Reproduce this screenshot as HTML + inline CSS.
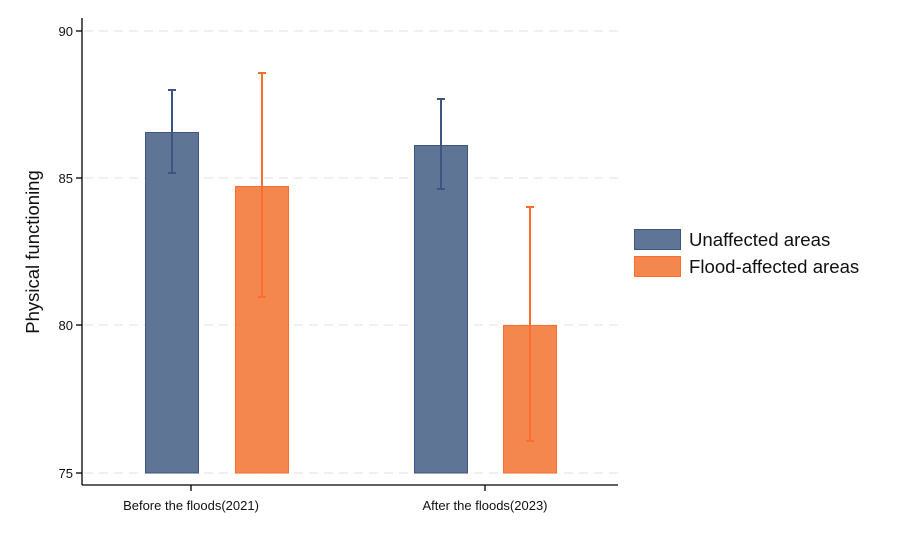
<!DOCTYPE html><html><head><style>body{margin:0;background:#fff}</style></head><body>
<svg width="904" height="542" xmlns="http://www.w3.org/2000/svg" font-family="Liberation Sans, Arial, sans-serif">
<rect width="904" height="542" fill="#fff"/>
<g stroke="#e6e6e6" stroke-dasharray="9,6" stroke-width="1.2">
<line x1="84" y1="31" x2="620" y2="31"/><line x1="84" y1="178" x2="620" y2="178"/><line x1="84" y1="325" x2="620" y2="325"/><line x1="84" y1="473" x2="620" y2="473"/></g>
<rect x="145.5" y="132.5" width="53" height="340.5" fill="#5f7595" stroke="#3d5580"/>
<rect x="235.5" y="186.5" width="53" height="286.5" fill="#f4874e" stroke="#f86e2c"/>
<rect x="414.5" y="145.5" width="53" height="327.5" fill="#5f7595" stroke="#3d5580"/>
<rect x="503.5" y="325.5" width="53" height="147.5" fill="#f4874e" stroke="#f86e2c"/>
<g stroke="#3d5580" stroke-width="2"><line x1="172" y1="90" x2="172" y2="173"/><line x1="168" y1="90" x2="176" y2="90"/><line x1="168" y1="173" x2="176" y2="173"/>
<line x1="441" y1="99" x2="441" y2="189"/><line x1="437" y1="99" x2="445" y2="99"/><line x1="437" y1="189" x2="445" y2="189"/></g>
<g stroke="#f86e2c" stroke-width="2"><line x1="262" y1="73" x2="262" y2="297"/><line x1="258" y1="73" x2="266" y2="73"/><line x1="258" y1="297" x2="266" y2="297"/>
<line x1="530" y1="207" x2="530" y2="441"/><line x1="526" y1="207" x2="534" y2="207"/><line x1="526" y1="441" x2="534" y2="441"/></g>
<g stroke="#000" stroke-width="1.3"><line x1="82" y1="18" x2="82" y2="485"/><line x1="82" y1="485" x2="618" y2="485"/>
<line x1="76" y1="31" x2="82" y2="31"/><line x1="76" y1="178" x2="82" y2="178"/><line x1="76" y1="325" x2="82" y2="325"/><line x1="76" y1="473" x2="82" y2="473"/>
<line x1="191" y1="485" x2="191" y2="491"/><line x1="485" y1="485" x2="485" y2="491"/></g>
<g font-size="13" text-anchor="end" fill="#111"><text x="73" y="36">90</text><text x="73" y="183">85</text><text x="73" y="330">80</text><text x="73" y="478">75</text></g>
<g font-size="13" text-anchor="middle" fill="#111"><text x="191" y="510">Before the floods(2021)</text><text x="485" y="510">After the floods(2023)</text></g>
<text transform="translate(39,252) rotate(-90)" font-size="18.5" text-anchor="middle" fill="#111">Physical functioning</text>
<rect x="634.5" y="229.5" width="46" height="20" fill="#5f7595" stroke="#3d5580"/>
<rect x="634.5" y="256.5" width="46" height="20" fill="#f4874e" stroke="#f86e2c"/>
<g font-size="18.6" fill="#111"><text x="689" y="246">Unaffected areas</text><text x="689" y="273">Flood-affected areas</text></g>
</svg></body></html>
